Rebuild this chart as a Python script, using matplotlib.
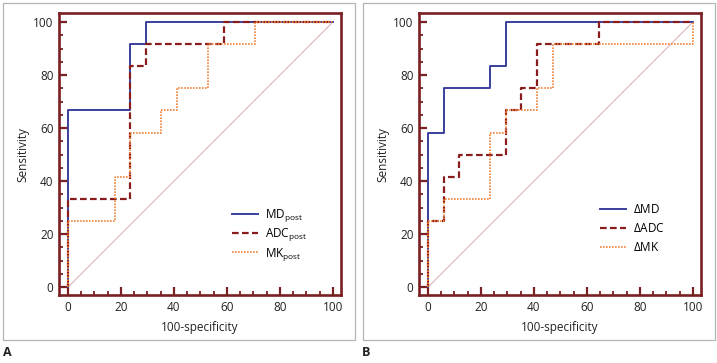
import matplotlib
matplotlib.use("Agg")
import matplotlib.pyplot as plt
from matplotlib.patches import Rectangle
from matplotlib.ticker import MultipleLocator

# ROC step curves, x = 100-specificity, y = sensitivity (%)
md_post_x = [0, 0, 23.5, 23.5, 29.4, 29.4, 100]
md_post_y = [0, 66.7, 66.7, 91.7, 91.7, 100, 100]
adc_post_x = [0, 0, 23.5, 23.5, 29.4, 29.4, 58.8, 58.8, 100]
adc_post_y = [0, 33.3, 33.3, 83.3, 83.3, 91.7, 91.7, 100, 100]
mk_post_x = [0, 0, 17.6, 17.6, 23.5, 23.5, 35.3, 35.3, 41.2, 41.2, 52.9, 52.9, 70.6, 70.6, 100]
mk_post_y = [0, 25, 25, 41.7, 41.7, 58.3, 58.3, 66.7, 66.7, 75, 75, 91.7, 91.7, 100, 100]

d_md_x = [0, 0, 5.9, 5.9, 23.5, 23.5, 29.4, 29.4, 100]
d_md_y = [0, 58.3, 58.3, 75, 75, 83.3, 83.3, 100, 100]
d_adc_x = [0, 0, 5.9, 5.9, 11.8, 11.8, 29.4, 29.4, 35.3, 35.3, 41.2, 41.2, 64.7, 64.7, 100]
d_adc_y = [0, 25, 25, 41.7, 41.7, 50, 50, 66.7, 66.7, 75, 75, 91.7, 91.7, 100, 100]
d_mk_x = [0, 0, 5.9, 5.9, 23.5, 23.5, 29.4, 29.4, 41.2, 41.2, 47.1, 47.1, 100, 100]
d_mk_y = [0, 25, 25, 33.3, 33.3, 58.3, 58.3, 66.7, 66.7, 75, 75, 91.7, 91.7, 100]

labels_a = [r"MD$_{\mathrm{post}}$", r"ADC$_{\mathrm{post}}$", r"MK$_{\mathrm{post}}$"]
labels_b = [r"$\Delta$MD", r"$\Delta$ADC", r"$\Delta$MK"]

BLUE = "#3a3f9c"
DRED = "#8a1c1c"
ORANGE = "#f0823a"
SPINE = "#7a1f22"

plt.rcParams["font.family"] = ["Open Sans", "DejaVu Sans"]
plt.rcParams["mathtext.fontset"] = "custom"
plt.rcParams["mathtext.rm"] = "Open Sans"
plt.rcParams["mathtext.it"] = "Open Sans"

fig = plt.figure(figsize=(7.17, 3.63), dpi=100)

# light grey frames around each panel
for x0 in (3, 363):
    fig.patches.append(Rectangle((x0 / 717, 23 / 363), 352 / 717, 337 / 363,
                                 transform=fig.transFigure, fill=False,
                                 edgecolor="#b5b5b5", lw=0.9))


def panel(left, curves, labels, letter, letter_x, leg_xy, spacing):
    ax = fig.add_axes([left, 0.187, 0.393, 0.777])
    ax.plot([0, 100], [0, 100], color="#e2b4b4", lw=0.8, zorder=1)
    styles = [dict(color=BLUE, ls="-", lw=1.4),
              dict(color=DRED, ls=(0, (3, 1.5)), lw=1.6),
              dict(color=ORANGE, ls=(0, (1, 0.8)), lw=1.2)]
    for (xs, ys), lab, st in zip(curves, labels, styles):
        ax.plot(xs, ys, label=lab, zorder=3, **st)
    ax.set_xlim(-3.4, 103)
    ax.set_ylim(-3, 103.4)
    ax.xaxis.set_major_locator(MultipleLocator(20))
    ax.yaxis.set_major_locator(MultipleLocator(20))
    ax.xaxis.set_minor_locator(MultipleLocator(5))
    ax.yaxis.set_minor_locator(MultipleLocator(5))
    for s in ax.spines.values():
        s.set_color(SPINE)
        s.set_linewidth(1.9)
    ax.tick_params(which="major", direction="in", length=6, width=1.6,
                   color=SPINE, labelsize=8.5, labelcolor="#222222", pad=4)
    ax.tick_params(which="minor", direction="in", length=3, width=1.3, color=SPINE)
    ax.set_xlabel("100-specificity", fontsize=8.5, color="#222222", labelpad=5)
    ax.set_ylabel("Sensitivity", fontsize=8.5, color="#222222", labelpad=3)
    ax.legend(loc="lower left", bbox_to_anchor=leg_xy, frameon=False,
              borderpad=0, borderaxespad=0,
              fontsize=8.5, handlelength=2.2, handletextpad=0.6, labelspacing=spacing)
    fig.text(letter_x / 717, 1 - 352 / 363, letter, fontsize=9, fontweight="bold",
             va="center", ha="left", color="#222222")
    return ax


panel(59 / 717, [(md_post_x, md_post_y), (adc_post_x, adc_post_y), (mk_post_x, mk_post_y)],
      labels_a, "A", 3, (0.613, 0.115), 0.2)
panel(419 / 717, [(d_md_x, d_md_y), (d_adc_x, d_adc_y), (d_mk_x, d_mk_y)],
      labels_b, "B", 362, (0.642, 0.145), 0.5)

fig.savefig("out.png", dpi=100)
